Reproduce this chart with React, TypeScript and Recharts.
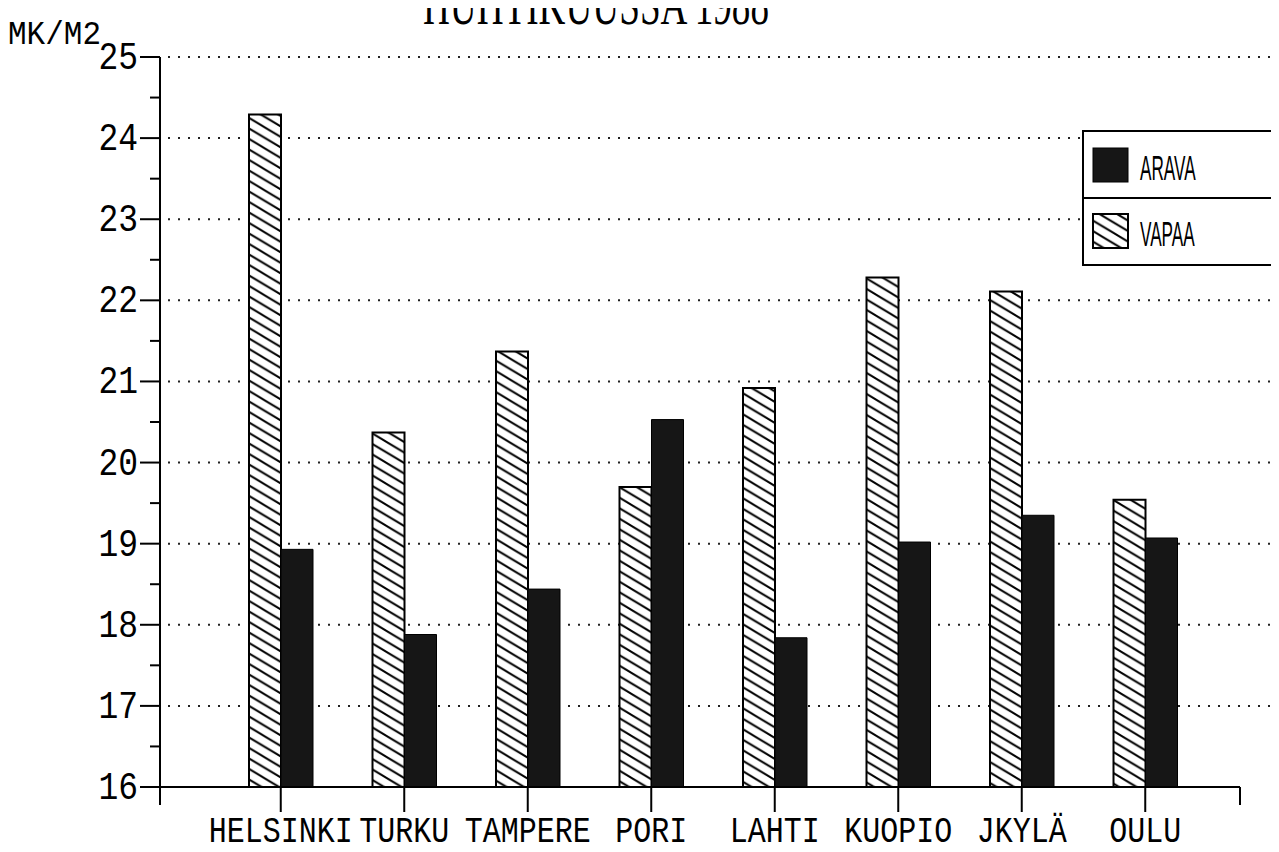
import React from 'react';
import { BarChart, Bar, XAxis, YAxis, CartesianGrid, Legend } from 'recharts';

const categories = ['HELSINKI', 'TURKU', 'TAMPERE', 'PORI', 'LAHTI', 'KUOPIO', 'JKYLÄ', 'OULU'];
const vapaa = [24.29, 20.37, 21.37, 19.7, 20.92, 22.28, 22.11, 19.54];
const arava = [18.93, 17.88, 18.44, 20.53, 17.84, 19.02, 19.35, 19.07];
const yTicks = [16, 16.5, 17, 17.5, 18, 18.5, 19, 19.5, 20, 20.5, 21, 21.5, 22, 22.5, 23, 23.5, 24, 24.5, 25];
const gridValues = [17, 18, 19, 20, 21, 22, 23, 24, 25];
const titleText = 'HUHTIKUUSSA 1988';
const unitText = 'MK/M2';

const data = categories.map((c, i) => ({ city: c, VAPAA: vapaa[i], ARAVA: arava[i] }));

const W = 1279;
const H = 852;
const MARGIN = { top: 57, right: 39, bottom: 0, left: 0 };
const XAXIS_H = 65;
const MONO = "'Liberation Mono', 'DejaVu Sans Mono', monospace";

const YTick = (props: any) => {
  const { x, y, payload } = props;
  const v = payload.value;
  const major = Number.isInteger(v);
  return (
    <g>
      <line x1={x - (major ? 20 : 10)} x2={x} y1={y} y2={y} stroke="#000" strokeWidth={2} />
      {v === 16 && <line x1={x} x2={x} y1={y} y2={y + 18} stroke="#000" strokeWidth={2} />}
      {major && (
        <text
          transform={`translate(${x - 22},${y + 12}) scale(1,1.2)`}
          textAnchor="end"
          fontFamily={MONO}
          fontSize={33}
          fill="#000"
        >
          {v}
        </text>
      )}
    </g>
  );
};

const XTick = (props: any) => {
  const { x, y, payload } = props;
  return (
    <g>
      <line x1={x} x2={x} y1={y} y2={y + 25} stroke="#000" strokeWidth={2} />
      <text
        transform={`translate(${x},${y + 55}) scale(1,1.2)`}
        textAnchor="middle"
        fontFamily={MONO}
        fontSize={30}
        fill="#000"
      >
        {payload.value}
      </text>
    </g>
  );
};

const HatchPattern = ({ id }: { id: string }) => (
  <pattern id={id} patternUnits="userSpaceOnUse" width={17.5} height={10.5}>
    <rect width={17.5} height={10.5} fill="#fff" />
    <path
      d="M-5,-3 L22.5,13.5 M12.5,-3 L22.5,3 M-5,7.5 L5,13.5"
      stroke="#000"
      strokeWidth={2}
      fill="none"
    />
  </pattern>
);

const LegendBox = () => (
  <svg width={197} height={138} style={{ display: 'block' }}>
    <defs>
      <HatchPattern id="hatchLegend" />
    </defs>
    <rect x={1} y={1} width={230} height={134} fill="#fff" stroke="#000" strokeWidth={2} />
    <line x1={1} x2={200} y1={68} y2={68} stroke="#000" strokeWidth={2} />
    <rect x={11} y={18} width={35} height={34} fill="#161616" stroke="#000" strokeWidth={1} />
    <text
      transform="translate(58,50) scale(0.52,1.05)"
      fontFamily="'Liberation Sans', Arial, sans-serif"
      fontSize={33}
      fill="#000"
    >
      ARAVA
    </text>
    <rect x={11} y={84} width={35} height={34} fill="url(#hatchLegend)" stroke="#000" strokeWidth={2} />
    <text
      transform="translate(58,116) scale(0.52,1.05)"
      fontFamily="'Liberation Sans', Arial, sans-serif"
      fontSize={33}
      fill="#000"
    >
      VAPAA
    </text>
  </svg>
);

const App = () => {
  const plotBottom = H - MARGIN.bottom - XAXIS_H;
  const plotRight = W - MARGIN.right;
  return (
    <div style={{ margin: -8, width: W, height: H, background: '#fff', overflow: 'hidden' }}>
      <BarChart width={W} height={H} data={data} margin={MARGIN} barGap={0}>
        <defs>
          <HatchPattern id="hatchBar" />
        </defs>
        <text
          transform={`translate(596,24) scale(0.62,1)`}
          textAnchor="middle"
          fontFamily="'Liberation Serif', 'DejaVu Serif', serif"
          fontSize={60}
          fill="#000"
        >
          {titleText}
        </text>
        <text transform="translate(8,44) scale(1,1.1)" fontFamily={MONO} fontSize={31} fill="#000">
          {unitText}
        </text>
        <CartesianGrid
          vertical={false}
          horizontalValues={gridValues}
          horizontal={(p: any) => (
            <line
              key={`h-${p.index}`}
              x1={p.x1 + 8}
              x2={W}
              y1={p.y1}
              y2={p.y2}
              stroke="#222"
              strokeWidth={2}
              strokeDasharray="2 8"
            />
          )}
        />
        <XAxis
          dataKey="city"
          height={XAXIS_H}
          padding={{ left: 59, right: 33 }}
          interval={0}
          tickLine={false}
          tickSize={0}
          tickMargin={0}
          tick={<XTick />}
          axisLine={{ stroke: '#000', strokeWidth: 2 }}
        />
        <YAxis
          type="number"
          width={160}
          domain={[16, 25]}
          ticks={yTicks}
          interval={0}
          allowDataOverflow
          tickLine={false}
          tickSize={0}
          tickMargin={0}
          tick={<YTick />}
          axisLine={{ stroke: '#000', strokeWidth: 2 }}
        />
        <Legend
          layout="vertical"
          align="center"
          verticalAlign="middle"
          content={<LegendBox />}
          wrapperStyle={{ position: 'absolute', left: 1082, top: 130, width: 197, height: 138 }}
        />
        <Bar dataKey="VAPAA" fill="url(#hatchBar)" stroke="#000" strokeWidth={2} barSize={32} isAnimationActive={false} />
        <Bar dataKey="ARAVA" fill="#161616" stroke="#000" strokeWidth={1} barSize={32} isAnimationActive={false} />
        <line x1={plotRight} x2={plotRight} y1={plotBottom} y2={plotBottom + 18} stroke="#000" strokeWidth={2} />
      </BarChart>
    </div>
  );
};

export default App;
